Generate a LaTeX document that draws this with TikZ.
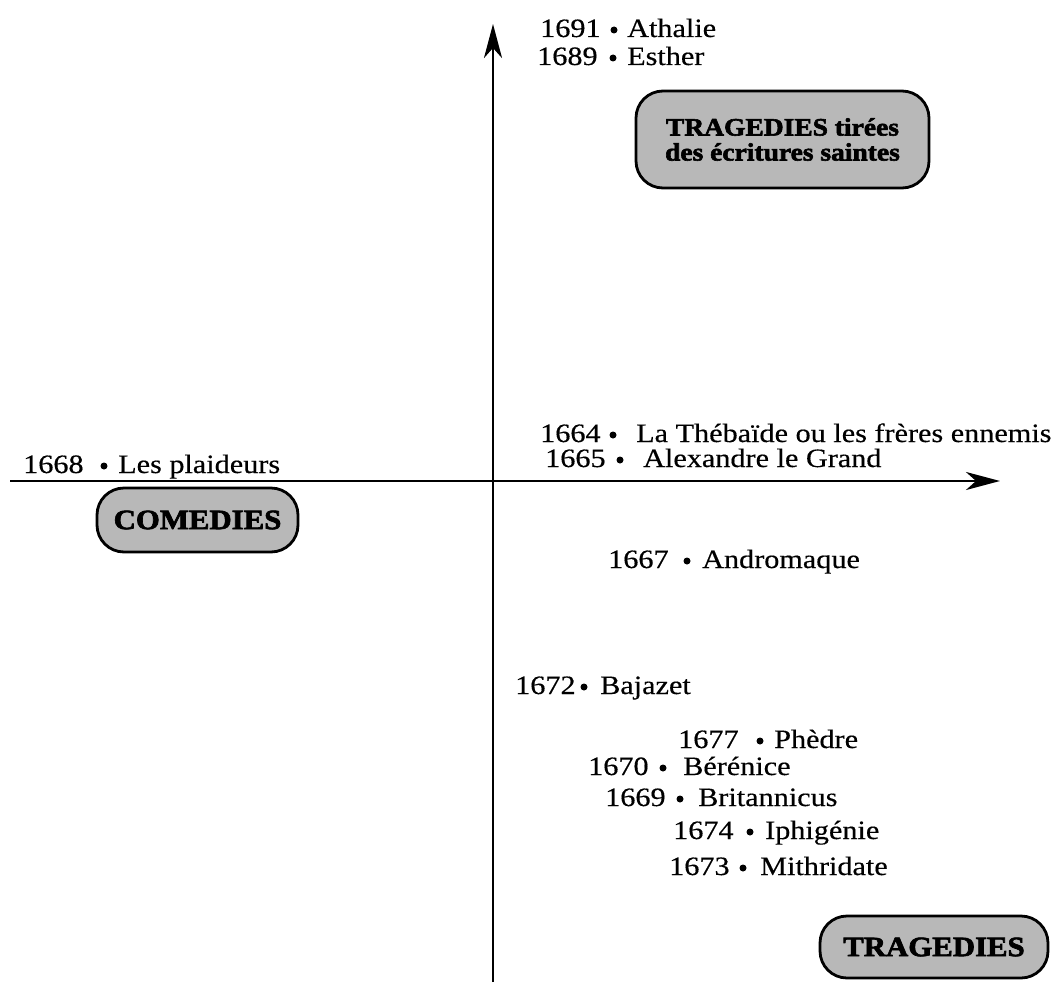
\documentclass[tikz,border=0pt]{standalone}
\usepackage{fontspec}
\setmainfont{Liberation Serif}
\newfontfamily\entryfont[FakeStretch=1.14, FakeBold=0.4]{Liberation Serif}
\newfontfamily\labelfont[FakeStretch=1.1, FakeBold=2.4]{Liberation Serif}
\usetikzlibrary{arrows.meta}

\tikzset{
  axis/.style={line width=2.8pt, -{Stealth[length=34pt,width=18pt,inset=10pt]}},
  entrytext/.style={anchor=base west, inner sep=0pt,
    font=\entryfont\fontsize{26.5}{30}\selectfont},
  dot/.style={circle, fill=black, inner sep=0pt, minimum size=7pt},
  genre/.style={draw, line width=2.8pt, rounded corners=27pt, fill=black!28,
    inner sep=0pt, align=center},
  genretext/.style={font=\labelfont\bfseries\fontsize{28}{30}\selectfont},
}

% one play: name, year x, dot x, title x, baseline y, year, title
\newcommand\play[7]{%
  \node[entrytext] (y-#1) at (#2,#5) {#6};
  \node[dot] (d-#1) at (#3,#5-7) {};
  \node[entrytext] (t-#1) at (#4,#5) {#7};
}

\begin{document}
\begin{tikzpicture}[x=1pt,y=-1pt]
\useasboundingbox (0,0) rectangle (1062,982);

% axes
\coordinate (ybot) at (493,982);
\coordinate (ytop) at (493,24);
\coordinate (xleft) at (10,481);
\coordinate (xright) at (1000,481);
\draw[axis] (ybot) -- (ytop);
\draw[axis] (xleft) -- (xright);

% genres
\node[genre, minimum width=293pt, minimum height=97pt,
      font=\labelfont\bfseries\fontsize{25}{25}\selectfont]
  (sacred) at (782.5,139.5) {TRAGEDIES tirées\\des écritures saintes};
\node[genre, genretext, minimum width=201pt, minimum height=64pt]
  (comedies) at (197.5,520) {COMEDIES};
\node[genre, genretext, minimum width=228pt, minimum height=62pt]
  (tragedies) at (934,947) {TRAGEDIES};

% plays
\play{athalie}{540}{614}{627}{37}{1691}{Athalie}
\play{esther}{537}{613}{627}{65}{1689}{Esther}
\play{thebaide}{540}{613}{636}{442}{1664}{La Thébaïde ou les frères ennemis}
\play{alexandre}{545}{620}{643}{467}{1665}{Alexandre le Grand}
\play{plaideurs}{23}{104}{118}{473}{1668}{Les plaideurs}
\play{andromaque}{608}{687}{702}{568}{1667}{Andromaque}
\play{bajazet}{515}{584}{600}{694}{1672}{Bajazet}
\play{phedre}{678}{760}{774}{748}{1677}{Phèdre}
\play{berenice}{588}{663}{683}{775}{1670}{Bérénice}
\play{britannicus}{605}{680}{698}{806}{1669}{Britannicus}
\play{iphigenie}{673}{750}{765}{839}{1674}{Iphigénie}
\play{mithridate}{669}{743}{760}{875}{1673}{Mithridate}
\end{tikzpicture}
\end{document}
